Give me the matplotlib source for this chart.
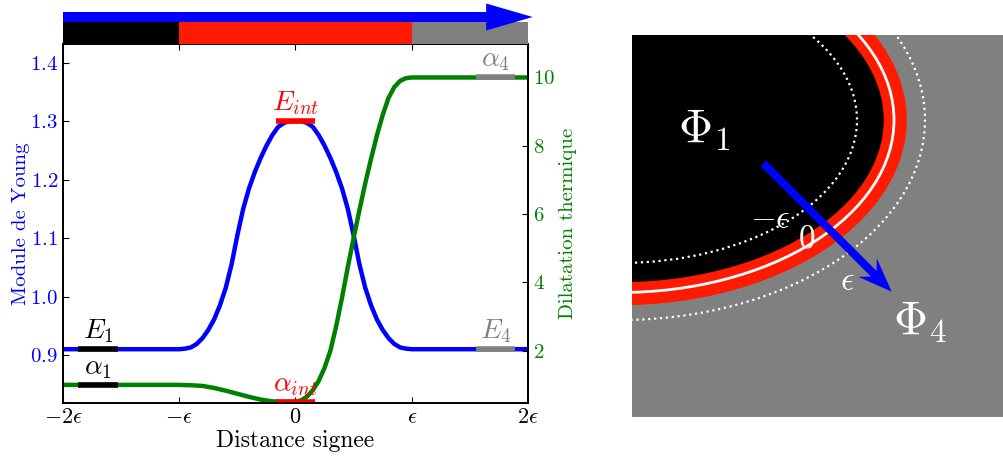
import matplotlib.pyplot as plt
import numpy as np
from matplotlib.patches import Ellipse

plt.rcParams['font.family'] = 'cmr10'
plt.rcParams['mathtext.fontset'] = 'cm'
plt.rcParams['axes.formatter.use_mathtext'] = True

# signed distance, in units of epsilon
dist_E = [-2.0, -1.0, -0.95, -0.90, -0.85, -0.80, -0.75, -0.70, -0.65, -0.60, -0.55,
          -0.50, -0.45, -0.40, -0.35, -0.30, -0.25, -0.20, -0.15, -0.10, -0.05, 0.0,
          0.05, 0.10, 0.15, 0.20, 0.25, 0.30, 0.35, 0.40, 0.45, 0.50, 0.55,
          0.60, 0.65, 0.70, 0.75, 0.80, 0.85, 0.90, 0.95, 1.0, 2.0]
young = [0.910, 0.910, 0.911, 0.913, 0.919, 0.929, 0.943, 0.961, 0.985, 1.015, 1.055,
         1.105, 1.150, 1.185, 1.213, 1.237, 1.258, 1.276, 1.290, 1.297, 1.300, 1.300,
         1.300, 1.297, 1.290, 1.276, 1.258, 1.237, 1.213, 1.185, 1.150, 1.105, 1.055,
         1.015, 0.985, 0.961, 0.943, 0.929, 0.919, 0.913, 0.911, 0.910, 0.910]

dist_a = [-2.0, -1.0, -0.90, -0.80, -0.70, -0.60, -0.50, -0.40, -0.30, -0.20, -0.10, 0.0,
          0.05, 0.10, 0.15, 0.20, 0.25, 0.30, 0.35, 0.40, 0.45, 0.50, 0.55, 0.60,
          0.65, 0.70, 0.75, 0.80, 0.85, 0.90, 0.95, 1.0, 2.0]
dilat = [1.00, 1.00, 0.99, 0.97, 0.91, 0.83, 0.74, 0.65, 0.57, 0.52, 0.50, 0.51,
         0.55, 0.66, 0.85, 1.12, 1.50, 2.00, 2.72, 3.55, 4.45, 5.30, 6.12, 6.90,
         7.62, 8.30, 8.90, 9.40, 9.72, 9.90, 9.98, 10.0, 10.0]

E1, Eint, E4 = 0.91, 1.30, 0.91
a1, aint, a4 = 1.0, 0.5, 10.0
mark_x = [-1.7, 0.0, 1.72]
mark_colors = ['black', 'red', 'gray']

xticks = [-2, -1, 0, 1, 2]
xticklabels = [r'$-2\epsilon$', r'$-\epsilon$', r'$0$', r'$\epsilon$', r'$2\epsilon$']
yticks_E = [0.9, 1.0, 1.1, 1.2, 1.3, 1.4]
yticks_a = [2, 4, 6, 8, 10]

phase_edges = [-2, -1, 1, 2]
phase_colors = ['black', '#ff1a00', '#808080']

fig = plt.figure(figsize=(10.04, 4.57), dpi=100)

# ---- left: profiles along the signed distance
ax = fig.add_axes([63/1004, 54/457, 465/1004, 359/457])
ax.plot(dist_E, young, color='b', lw=3.2)
ax.set_xlim(-2, 2)
ax.set_ylim(0.818, 1.432)
ax.set_xticks(xticks)
ax.set_xticklabels(xticklabels, fontsize=16)
ax.set_yticks(yticks_E)
ax.tick_params(direction='in', top=True, length=4)
ax.tick_params(axis='y', labelcolor='b', labelsize=15)
ax.set_xlabel('Distance signee', fontsize=17, labelpad=2)
ax.set_ylabel('Module de Young', fontsize=15, color='b', labelpad=0)

ax2 = ax.twinx()
ax2.plot(dist_a, dilat, color='g', lw=3.2)
ax2.set_ylim(0.47, 10.98)
ax2.set_yticks(yticks_a)
ax2.tick_params(axis='y', direction='in', length=4, labelcolor='g', labelsize=15)
ax2.set_ylabel('Dilatation thermique', fontsize=15, color='g', labelpad=3)

for a in (ax, ax2):
    for s in a.spines.values():
        s.set_linewidth(1.3)

hw = 0.17
for xc, c, val, lab in zip(mark_x, mark_colors, [E1, Eint, E4], [r'$E_1$', r'$E_{int}$', r'$E_4$']):
    ax.plot([xc - hw, xc + hw], [val, val], color=c, lw=4, solid_capstyle='butt')
    ax.annotate(lab, (xc, val), xytext=(0, 3), textcoords='offset points',
                ha='center', va='bottom', fontsize=20, color=c)
for xc, c, val, lab in zip(mark_x, mark_colors, [a1, aint, a4], [r'$\alpha_1$', r'$\alpha_{int}$', r'$\alpha_4$']):
    ax2.plot([xc - hw, xc + hw], [val, val], color=c, lw=4, solid_capstyle='butt')
    ax2.annotate(lab, (xc, val), xytext=(0, 3), textcoords='offset points',
                 ha='center', va='bottom', fontsize=20, color=c)

# ---- phase strip and direction arrow above the plot
axb = fig.add_axes([63/1004, 413/457, 465/1004, 41/457])
axb.set_xlim(-2, 2)
axb.set_ylim(0, 41)
axb.axis('off')
axb.barh(0, np.diff(phase_edges), left=phase_edges[:-1], height=22, align='edge',
         color=phase_colors)
axb.arrow(-2, 27, 4.04, 0, width=10, head_width=27, head_length=0.4,
          length_includes_head=True, color='b', lw=0, clip_on=False)

# ---- right: sketch of the interface
axi = fig.add_axes([632/1004, 40/457, 372/1004, 382/457])
axi.set_xlim(0, 372)
axi.set_ylim(382, 0)
axi.set_facecolor('#808080')
axi.set_xticks([])
axi.set_yticks([])
for s in axi.spines.values():
    s.set_visible(False)

cx, cy = -12, 85
axi.add_patch(Ellipse((cx, cy), 2*286, 2*184.5, color='#ff1a00'))
axi.add_patch(Ellipse((cx, cy), 2*263, 2*161.5, color='black'))
axi.add_patch(Ellipse((cx, cy), 2*274, 2*172.5, fill=False, ec='white', lw=2))
axi.add_patch(Ellipse((cx, cy), 2*237, 2*143, fill=False, ec='white', lw=1.6, ls=':'))
axi.add_patch(Ellipse((cx, cy), 2*305, 2*200, fill=False, ec='white', lw=1.6, ls=':'))

axi.arrow(131.3, 128.3, 128.4, 128.4, width=8, head_width=26, head_length=34,
          overhang=0.25, length_includes_head=True, color='b', lw=0)

axi.text(72, 95, r'$\Phi_1$', fontsize=34, color='white', ha='center', va='center')
axi.text(288, 287, r'$\Phi_4$', fontsize=34, color='white', ha='center', va='center')
axi.text(138, 184, r'$-\epsilon$', fontsize=24, color='white', ha='center', va='center')
axi.text(174.7, 204, r'$0$', fontsize=24, color='white', ha='center', va='center')
axi.text(215.5, 246.7, r'$\epsilon$', fontsize=24, color='white', ha='center', va='center')

fig.savefig('out.png', dpi=100)
